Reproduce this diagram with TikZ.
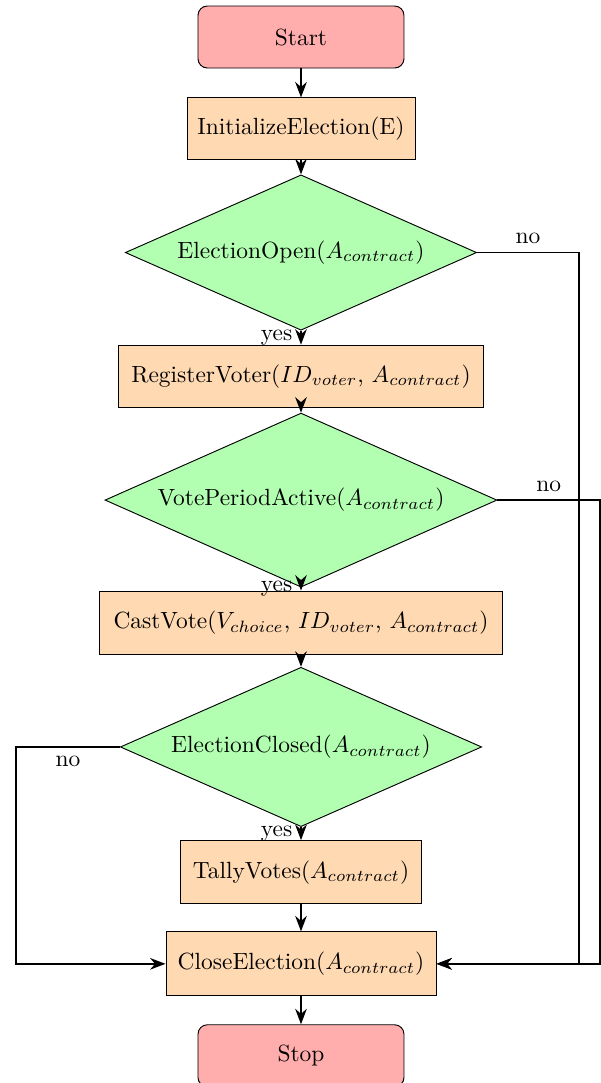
\documentclass[tikz,border=0pt]{standalone}
\usepackage{amsmath}
\usetikzlibrary{shapes.geometric, arrows.meta, positioning}

\begin{document}
\begin{tikzpicture}[
	startstop/.style={rectangle, rounded corners=4pt, draw, fill=red!32, minimum width=3.09cm, minimum height=0.93cm, align=center},
	process/.style={rectangle, draw, fill=orange!30, minimum height=0.93cm, align=center},
	decision/.style={diamond, draw, fill=green!30, aspect=2.25, inner sep=0pt, align=center},
	arrow/.style={-Stealth, thick}
	]
	\useasboundingbox (-4.515,0.555) rectangle (4.5,-15.69);

	% Nodes
	\node (start) [startstop] {Start};
	\node (init) [process, minimum width=3.42cm, below=0.435cm of start] {InitializeElection(E)};
	\node (open) [decision, minimum width=5.27cm, minimum height=2.33cm, below=0.21cm of init] {ElectionOpen($A_{contract}$)};
	\node (register) [process, minimum width=5.48cm, below=0.21cm of open] {RegisterVoter($ID_{voter}$, $A_{contract}$)};
	\node (active) [decision, minimum width=5.88cm, minimum height=2.61cm, below=0.075cm of register] {VotePeriodActive($A_{contract}$)};
	\node (cast) [process, minimum width=6.05cm, minimum height=0.95cm, below=0.045cm of active] {CastVote($V_{choice}$, $ID_{voter}$, $A_{contract}$)};
	\node (closed) [decision, minimum width=5.42cm, minimum height=2.39cm, below=0.18cm of cast] {ElectionClosed($A_{contract}$)};
	\node (tally) [process, minimum width=3.62cm, minimum height=0.95cm, below=0.195cm of closed] {TallyVotes($A_{contract}$)};
	\node (close) [process, minimum width=4.05cm, minimum height=0.96cm, below=0.405cm of tally] {CloseElection($A_{contract}$)};
	\node (stop) [startstop, below=0.42cm of close] {Stop};

	\coordinate (noA) at (4.17,0);
	\coordinate (noB) at (4.485,0);
	\coordinate (noC) at (-4.275,0);

	% Connections
	\draw [arrow] (start) -- (init);
	\draw [arrow] (init) -- (open);
	\draw [arrow] (open) -- node[left] {yes} (register);
	\draw [arrow] (register) -- (active);
	\draw [arrow] (active) -- node[left] {yes} (cast);
	\draw [arrow] (cast) -- (closed);
	\draw [arrow] (closed) -- node[left] {yes} (tally);
	\draw [arrow] (tally) -- (close);
	\draw [arrow] (close) -- (stop);
	\draw [arrow] (open.east) -- node[above] {no} (open.east -| noA) |- (close.east);
	\draw [arrow] (active.east) -- node[above] {no} (active.east -| noB) |- (close.east);
	\draw [arrow] (closed.west) -- node[below] {no} (closed.west -| noC) |- (close.west);

\end{tikzpicture}
\end{document}
